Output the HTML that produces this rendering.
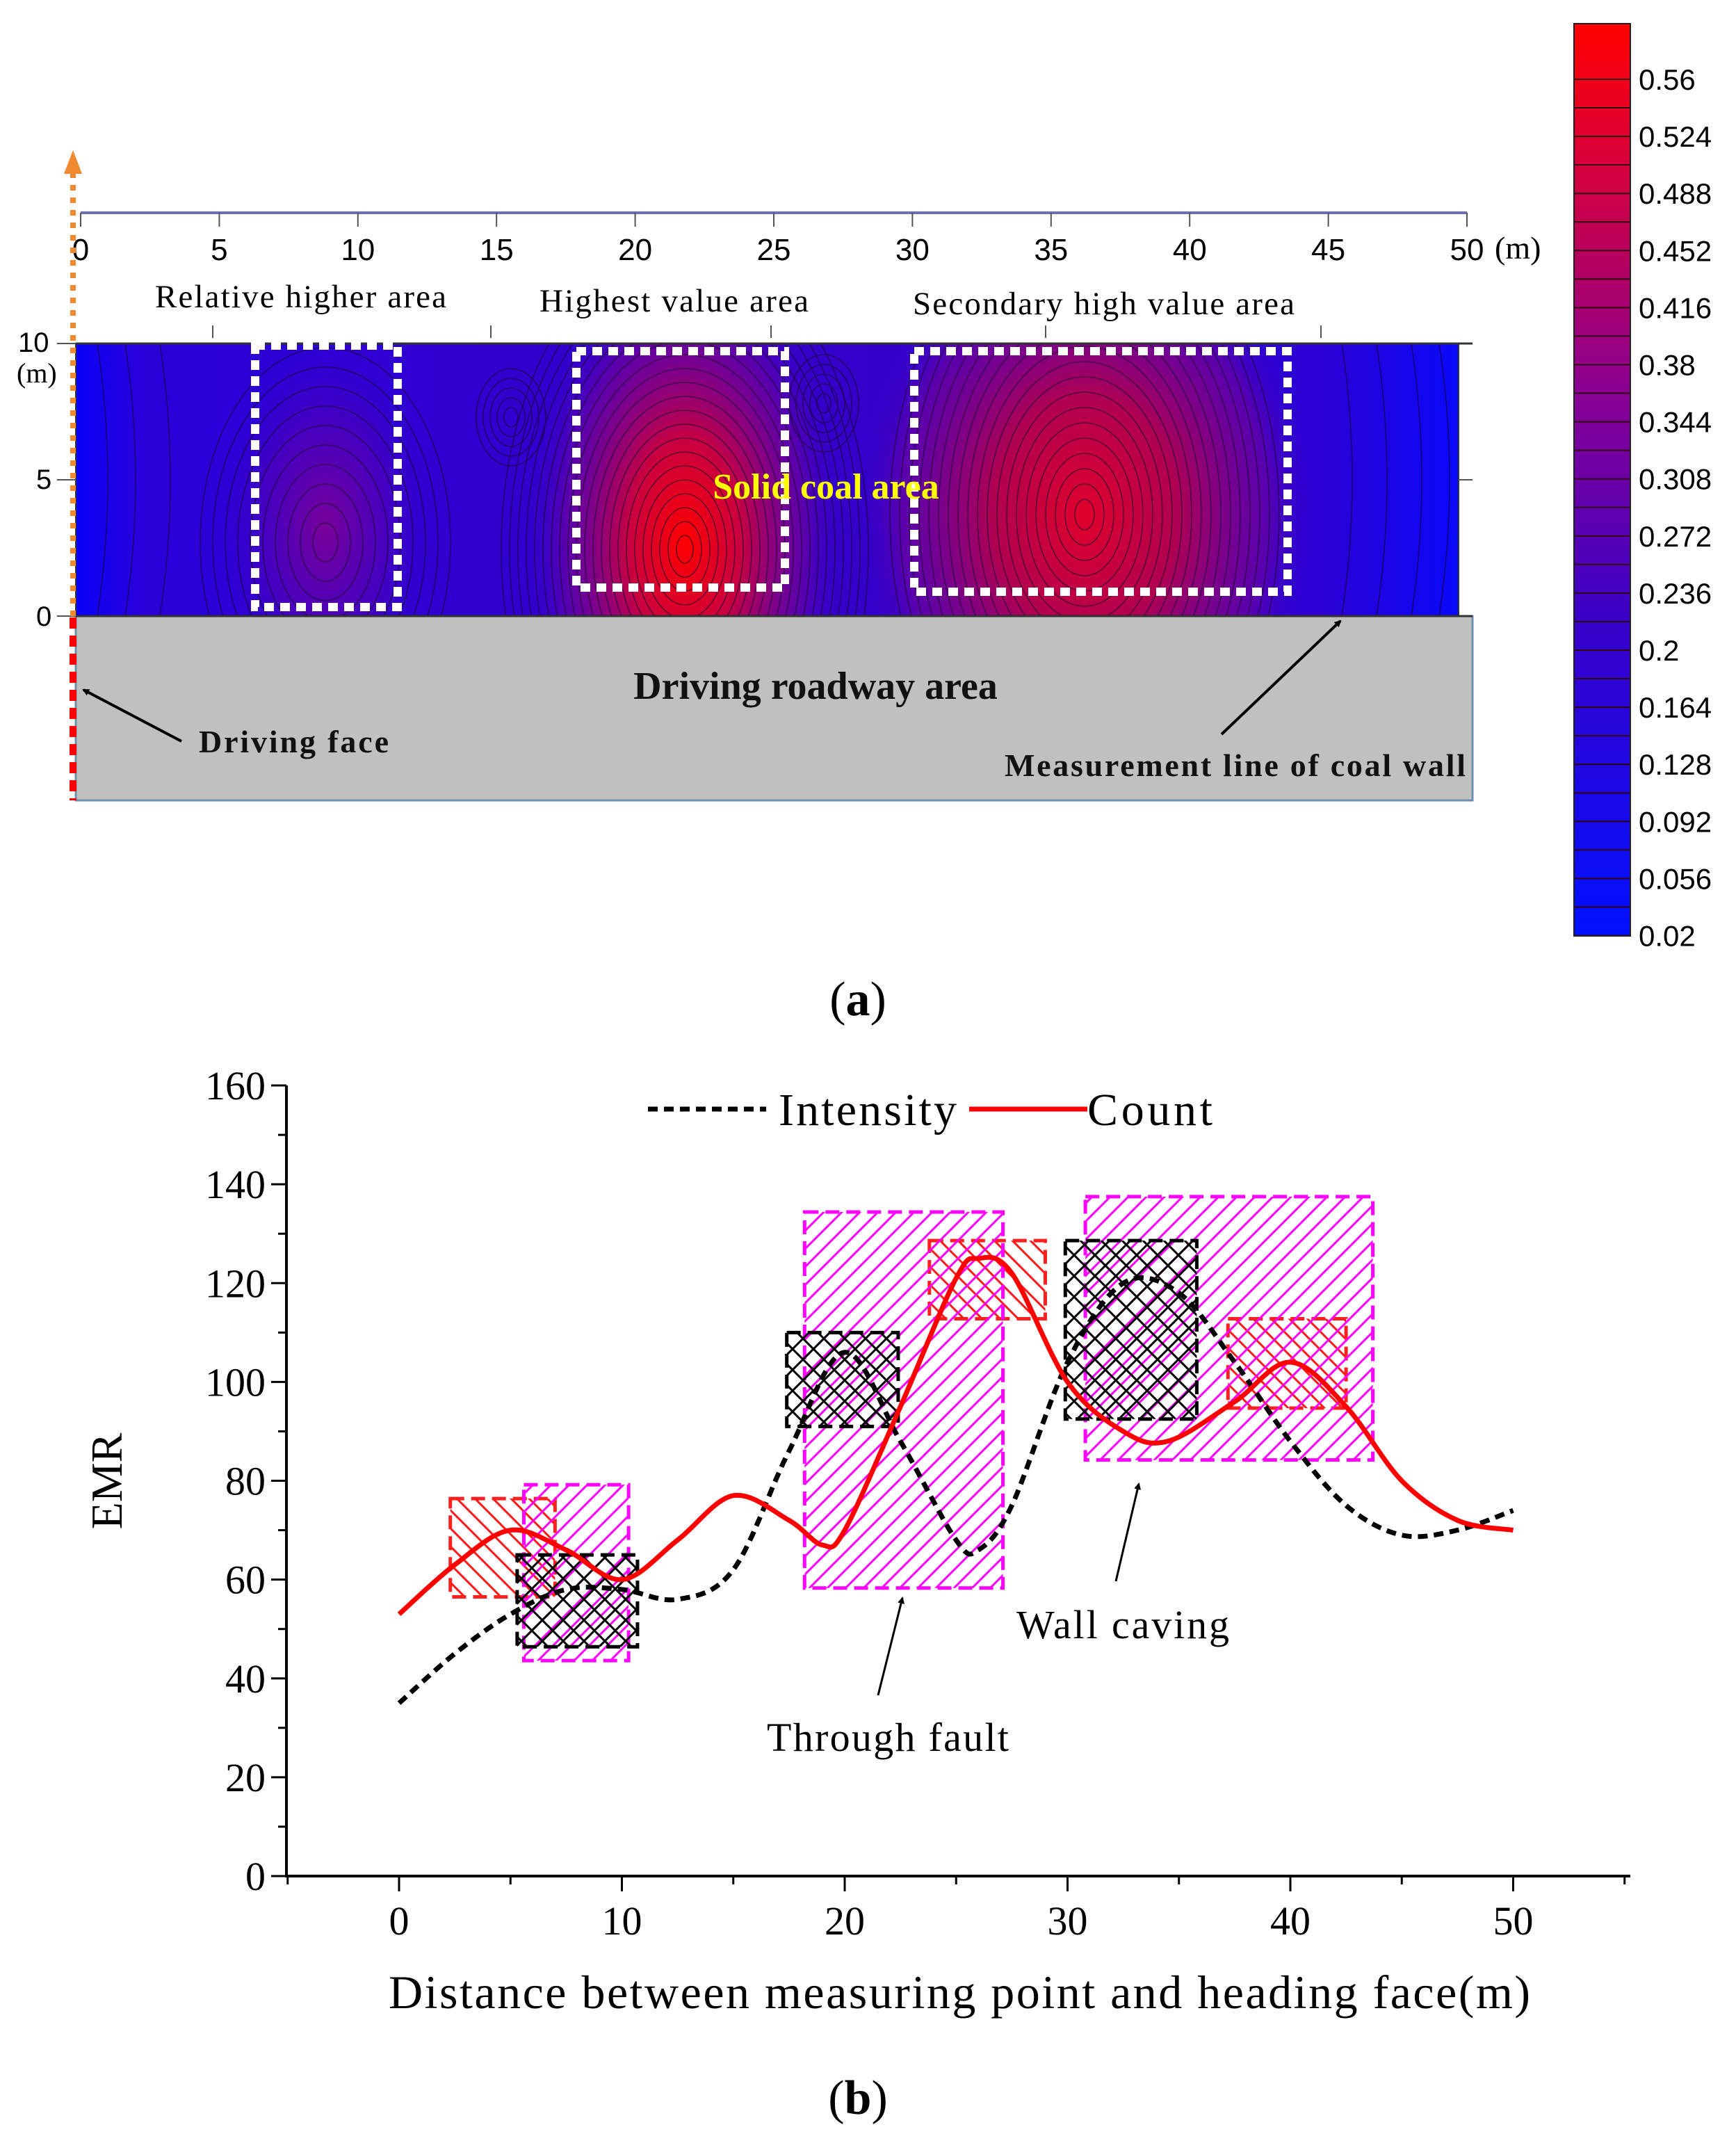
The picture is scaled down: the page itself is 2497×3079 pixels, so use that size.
<!DOCTYPE html>
<html><head><meta charset="utf-8"><style>
html,body{margin:0;padding:0;background:#fff}
svg{display:block}
</style></head><body>
<svg id="fig" width="2497" height="3079" viewBox="0 0 2497 3079" xmlns="http://www.w3.org/2000/svg">
<defs>
 <linearGradient id="cbar" x1="0" y1="1" x2="0" y2="0">
  <stop offset="0" stop-color="#0010ff"/><stop offset="0.35" stop-color="#3a00c8"/>
  <stop offset="0.6" stop-color="#8a0090"/><stop offset="0.85" stop-color="#d8003a"/><stop offset="1" stop-color="#ff0000"/>
 </linearGradient>
 <linearGradient id="base" x1="0" y1="0" x2="1" y2="0">
  <stop offset="0" stop-color="#0a00f8"/><stop offset="0.05" stop-color="#2a00d8"/>
  <stop offset="0.5" stop-color="#3500c8"/><stop offset="0.9" stop-color="#2c00d4"/><stop offset="1" stop-color="#0808f8"/>
 </linearGradient>
 <radialGradient id="hot1" cx="0.5" cy="0.5" r="0.5"><stop offset="0" stop-color="#ff0000"/><stop offset="0.35" stop-color="#c80040"/><stop offset="0.75" stop-color="#6a00a0" stop-opacity="0.7"/><stop offset="1" stop-color="#3500c8" stop-opacity="0"/></radialGradient>
 <radialGradient id="hot2" cx="0.5" cy="0.5" r="0.5"><stop offset="0" stop-color="#e0002a"/><stop offset="0.4" stop-color="#b00050"/><stop offset="0.8" stop-color="#6a00a0" stop-opacity="0.7"/><stop offset="1" stop-color="#3500c8" stop-opacity="0"/></radialGradient>
 <radialGradient id="hot3" cx="0.5" cy="0.5" r="0.5"><stop offset="0" stop-color="#7a0098"/><stop offset="0.6" stop-color="#5000b8" stop-opacity="0.7"/><stop offset="1" stop-color="#3500c8" stop-opacity="0"/></radialGradient>
 <pattern id="hRed" patternUnits="userSpaceOnUse" width="26" height="26"><path d="M-2,-2 L28,28 M-2,24 L2,28 M24,-2 L28,2" stroke="#ff1a1a" stroke-width="3"/></pattern>
 <pattern id="hMag" patternUnits="userSpaceOnUse" width="26" height="26"><path d="M-2,28 L28,-2 M-2,2 L2,-2 M24,28 L28,24" stroke="#ff00ff" stroke-width="3"/></pattern>
 <pattern id="hBlk" patternUnits="userSpaceOnUse" width="30" height="30"><path d="M-2,-2 L32,32 M-2,32 L32,-2" stroke="#000" stroke-width="3"/></pattern>
 <clipPath id="clipA"><rect x="109" y="494" width="1989" height="392"/></clipPath>
 <marker id="arr" markerWidth="10" markerHeight="10" refX="8" refY="5" orient="auto" markerUnits="userSpaceOnUse" viewBox="0 0 10 10"><path d="M0,0 L10,5 L0,10 z" fill="#000"/></marker>
</defs>

<g font-family="Liberation Sans, sans-serif">
 <g clip-path="url(#clipA)">
  <rect x="109" y="494" width="1989" height="392" fill="url(#base)"/>
  <ellipse cx="468" cy="760" rx="150" ry="260" fill="url(#hot3)"/>
  <ellipse cx="985" cy="780" rx="230" ry="420" fill="url(#hot1)"/>
  <ellipse cx="1560" cy="740" rx="330" ry="420" fill="url(#hot2)"/>
  <g fill="none" stroke="#1a0030" stroke-width="1.6" opacity="0.6" id="contours"></g>
 </g>
 <rect x="109" y="494" width="1989" height="392" fill="none" stroke="#333" stroke-width="2"/>
 <rect x="109" y="886" width="2009" height="265" fill="#c0c0c0" stroke="#6a8fb0" stroke-width="3"/>
 <line x1="109" y1="494" x2="2118" y2="494" stroke="#333" stroke-width="3"/>
 <line x1="109" y1="886" x2="2118" y2="886" stroke="#333" stroke-width="3"/>
 <line x1="116" y1="306" x2="2110" y2="306" stroke="#6a70b0" stroke-width="4"/>
 <g id="topticks" font-size="44" fill="#000" text-anchor="middle"></g>
 <text x="2150" y="372" font-family="Liberation Serif, serif" font-size="46">(m)</text>
 <g id="smallticks" stroke="#555" stroke-width="2"></g>
 <g font-family="Liberation Serif, serif" font-size="47" fill="#000">
  <text x="223" y="442" textLength="419">Relative higher area</text>
  <text x="776" y="448" textLength="387">Highest value area</text>
  <text x="1313" y="452" textLength="549">Secondary high value area</text>
 </g>
 <g font-size="40" fill="#000">
  <text x="26" y="506">10</text><text x="24" y="550" font-family="Liberation Serif, serif">(m)</text>
  <text x="52" y="703">5</text><text x="52" y="900">0</text>
  <line x1="82" y1="494" x2="109" y2="494" stroke="#555" stroke-width="2"/>
  <line x1="82" y1="690" x2="109" y2="690" stroke="#555" stroke-width="2"/>
  <line x1="82" y1="886" x2="109" y2="886" stroke="#555" stroke-width="2"/>
  <line x1="2098" y1="690" x2="2118" y2="690" stroke="#555" stroke-width="2"/>
 </g>
 <g fill="none" stroke="#fff" stroke-width="12" stroke-dasharray="14 9">
  <rect x="367" y="497" width="205" height="376"/>
  <rect x="829" y="505" width="300" height="340"/>
  <rect x="1315" y="505" width="537" height="346"/>
 </g>
 <text x="1188" y="717" text-anchor="middle" font-family="Liberation Serif, serif" font-weight="bold" font-size="52" fill="#ffff00">Solid coal area</text>
 <text x="1173" y="1005" text-anchor="middle" font-family="Liberation Serif, serif" font-weight="bold" font-size="56" fill="#111">Driving roadway area</text>
 <text x="286" y="1082" font-family="Liberation Serif, serif" font-weight="bold" font-size="46" textLength="273" fill="#111">Driving face</text>
 <line x1="261" y1="1066" x2="120" y2="992" stroke="#000" stroke-width="4" marker-end="url(#arr)"/>
 <text x="1445" y="1116" font-family="Liberation Serif, serif" font-weight="bold" font-size="46" textLength="663" fill="#111">Measurement line of coal wall</text>
 <line x1="1757" y1="1056" x2="1928" y2="893" stroke="#000" stroke-width="4" marker-end="url(#arr)"/>
 <line x1="105" y1="248" x2="105" y2="888" stroke="#f08a30" stroke-width="8" stroke-dasharray="8 10"/>
 <path d="M105,216 L92,250 L118,250 z" fill="#f08a30"/>
 <line x1="105" y1="888" x2="105" y2="1151" stroke="#ff0000" stroke-width="10" stroke-dasharray="16 10"/>
 <g>
  <rect x="2264" y="34" width="81" height="1312" fill="url(#cbar)"/>
  <g id="cbarlines" stroke="#300010" stroke-width="2"></g>
  <rect x="2264" y="34" width="81" height="1312" fill="none" stroke="#222" stroke-width="2"/>
  <g id="cbarlabels" font-size="42" fill="#000"></g>
 </g>
 <text x="1234" y="1460" text-anchor="middle" font-family="Liberation Serif, serif" font-size="70">(<tspan font-weight="bold">a</tspan>)</text>
</g>

<g font-family="Liberation Serif, serif" transform="translate(0,-10)">
 <g id="boxes"></g>
 <g id="series"></g>
 <g id="axes"></g>
 <text x="175" y="2140" transform="rotate(-90 175 2140)" text-anchor="middle" font-size="64">EMR</text>
 <text x="1380" y="2898" text-anchor="middle" font-size="68" textLength="1642">Distance between measuring point and heading face(m)</text>
 <g>
  <line x1="932" y1="1605" x2="1102" y2="1605" stroke="#000" stroke-width="7" stroke-dasharray="14 9"/>
  <text x="1120" y="1628" font-size="66" textLength="256">Intensity</text>
  <line x1="1394" y1="1605" x2="1564" y2="1605" stroke="#ff0000" stroke-width="7"/>
  <text x="1564" y="1628" font-size="66" textLength="180">Count</text>
 </g>
 <text x="1277" y="2528" text-anchor="middle" font-size="58" textLength="348">Through fault</text>
 <line x1="1263" y1="2448" x2="1298" y2="2308" stroke="#000" stroke-width="3" marker-end="url(#arr)"/>
 <text x="1615" y="2366" text-anchor="middle" font-size="58" textLength="306">Wall caving</text>
 <line x1="1605" y1="2284" x2="1638" y2="2144" stroke="#000" stroke-width="3" marker-end="url(#arr)"/>
 <text x="1234" y="3050" text-anchor="middle" font-size="70">(<tspan font-weight="bold">b</tspan>)</text>
</g>
</svg>
<script>
const NS='http://www.w3.org/2000/svg';
function mk(tag,attrs,parent){const e=document.createElementNS(NS,tag);for(const k in attrs)e.setAttribute(k,attrs[k]);parent.appendChild(e);return e;}

const topTickValues=[0,5,10,15,20,25,30,35,40,45,50];
const colorbarLabels=['0.56','0.524','0.488','0.452','0.416','0.38','0.344','0.308','0.272','0.236','0.2','0.164','0.128','0.092','0.056','0.02'];
const countX=[0,2.5,5,7.5,10,12.5,15,17.5,19,20,22.5,25,26,27.5,30,32.5,34.5,37.5,40,42.5,45,47.5,50];
const countY=[53,63,70,66,60,68,77,72,67,70,95,121,125,122,100,90,88,96,104,95,80,72,70];
const intensityX=[0,2.5,5,7.5,10,12.5,15,17.5,20,22.5,25,26,27.5,30,32.5,35,37.5,40,42.5,45,47.5,50];
const intensityY=[35,45,53,58,58,56,62,86,106,88,68,66,75,104,120,118,104,88,75,69,70,74];
const xTicks=[0,10,20,30,40,50];
const yTicks=[0,20,40,60,80,100,120,140,160];
const redBoxes=[[2.3,7.0,56.5,76.4],[23.8,29.0,112.8,128.6],[37.2,42.5,94.7,112.8]];
const magentaBoxes=[[5.6,10.3,43.6,79.2],[18.2,27.1,58.3,134.4],[30.8,43.7,84.2,137.5]];
const blackBoxes=[[5.3,10.7,46.4,65],[17.4,22.4,91,110],[29.9,35.8,92.5,128.6]];

const tx=v=>116+v*39.88;
const tt=document.getElementById('topticks');
topTickValues.forEach(v=>{
 const l=mk('line',{x1:tx(v),y1:306,x2:tx(v),y2:326,stroke:'#555','stroke-width':2},tt);
 
 
 const t=mk('text',{x:tx(v),y:374},tt);t.textContent=v;
 
 
});
const st=document.getElementById('smallticks');
[306,706,1109,1504,1900].forEach(x=>{mk('line',{x1:x,y1:468,x2:x,y2:486},st);});
const cl=document.getElementById('cbarlines'),cb=document.getElementById('cbarlabels');
colorbarLabels.forEach((s,i)=>{
 const y=114+i*82.1;
 mk('line',{x1:2264,y1:y,x2:2345,y2:y},cl);
 if(i<15)mk('line',{x1:2264,y1:y+41,x2:2345,y2:y+41},cl);
 const t=mk('text',{x:2357,y:y+15},cb);t.textContent=s;
 
 
});
const cg=document.getElementById('contours');
[[985,790,12,20,22],[1560,740,14,22,20],[468,780,18,28,10],[735,600,10,14,5],[1185,580,10,14,5]].forEach(c=>{
 for(let k=1;k<=c[4];k++)mk('ellipse',{cx:c[0],cy:c[1],rx:c[2]*k,ry:c[3]*k},cg);
});
[140,180,230,1930,1980,2030,2070].forEach(x=>mk('path',{d:`M${x},494 Q${x+30},690 ${x},886`},cg));

const sx=v=>574+v*32.05, sy=v=>2708-v*7.106;
const bx=document.getElementById('boxes');
function boxes(arr,fill,stroke,name){arr.forEach(b=>{
 const r=mk('rect',{x:sx(b[0]),y:sy(b[3]),width:sx(b[1])-sx(b[0]),height:sy(b[2])-sy(b[3]),fill:fill,stroke:stroke,'stroke-width':5,'stroke-dasharray':'20 10'},bx);
 
 
});}
boxes(redBoxes,'url(#hRed)','#ff2020','red-hatch-box');
boxes(magentaBoxes,'url(#hMag)','#ff00ff','magenta-hatch-box');
boxes(blackBoxes,'url(#hBlk)','#000','black-hatch-box');

function smooth(xs,ys){
 const p=xs.map((x,i)=>[sx(x),sy(ys[i])]);
 let d=`M${p[0][0]},${p[0][1]}`;
 for(let i=0;i<p.length-1;i++){
  const p0=p[Math.max(0,i-1)],p1=p[i],p2=p[i+1],p3=p[Math.min(p.length-1,i+2)];
  const c1=[p1[0]+(p2[0]-p0[0])/6,p1[1]+(p2[1]-p0[1])/6],c2=[p2[0]-(p3[0]-p1[0])/6,p2[1]-(p3[1]-p1[1])/6];
  d+=` C${c1[0]},${c1[1]} ${c2[0]},${c2[1]} ${p2[0]},${p2[1]}`;
 }
 return d;
}
const sg=document.getElementById('series');
const li=mk('path',{d:smooth(intensityX,intensityY),fill:'none',stroke:'#000','stroke-width':7,'stroke-dasharray':'14 9'},sg);


const lc=mk('path',{d:smooth(countX,countY),fill:'none',stroke:'#ff0000','stroke-width':7},sg);



const ax=document.getElementById('axes');
mk('line',{x1:412,y1:1571,x2:412,y2:2710,stroke:'#000','stroke-width':4},ax);
mk('line',{x1:410,y1:2708,x2:2345,y2:2708,stroke:'#000','stroke-width':4},ax);
for(let v=0;v<=160;v+=10){const maj=v%20===0;mk('line',{x1:maj?390:400,y1:sy(v),x2:412,y2:sy(v),stroke:'#000','stroke-width':3},ax);}
for(let v=-5;v<=55;v+=5){const maj=v%10===0;mk('line',{x1:sx(v),y1:2708,x2:sx(v),y2:maj?2730:2720,stroke:'#000','stroke-width':3},ax);}
yTicks.forEach(v=>{const t=mk('text',{x:382,y:sy(v)+20,'text-anchor':'end','font-size':58},ax);t.textContent=v;
 
 });
xTicks.forEach(v=>{const t=mk('text',{x:sx(v),y:2792,'text-anchor':'middle','font-size':58},ax);t.textContent=v;
 
 });
</script>
</body></html>
